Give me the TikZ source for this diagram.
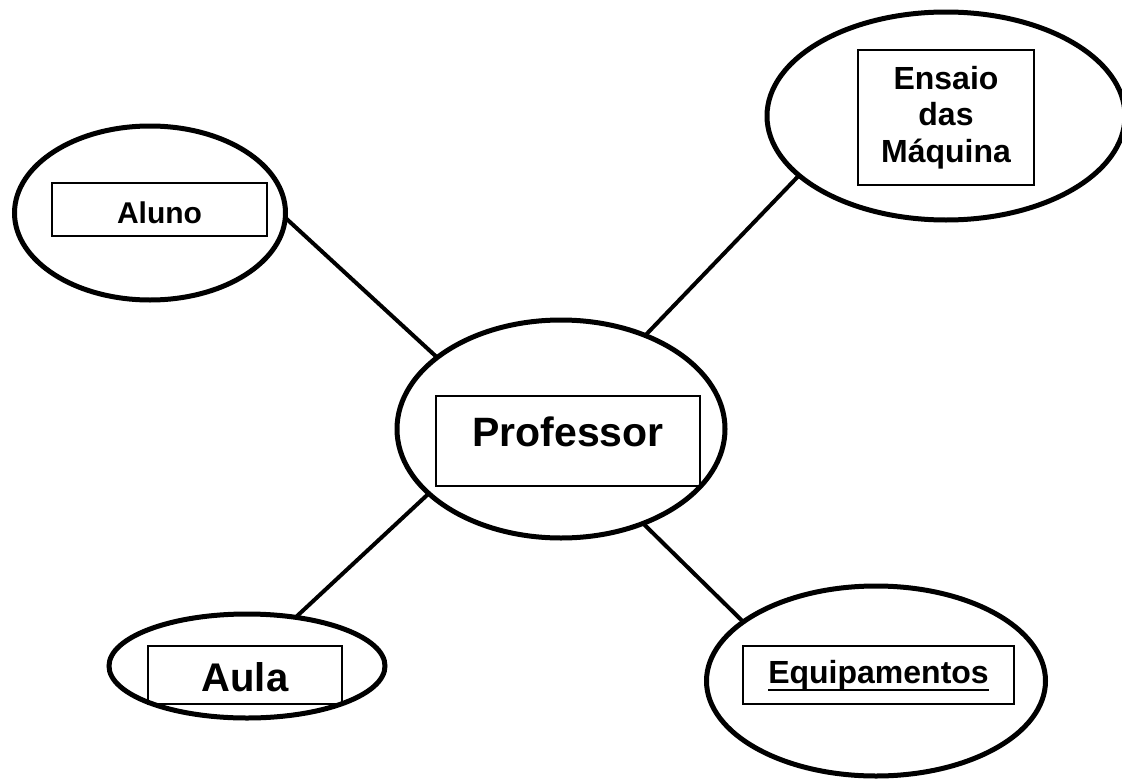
\documentclass[tikz,border=0pt]{standalone}
\usepackage{fontspec}
\setmainfont{Liberation Sans}
\usetikzlibrary{shapes.geometric}
\newcommand{\thickul}[1]{\vtop{\hbox{#1}\kern-1pt\hrule height 2.2pt}}

\begin{document}
\begin{tikzpicture}[x=1pt, y=-1pt, font=\bfseries,
  bubble/.style={draw, ellipse, line width=5pt, inner sep=0pt, outer sep=0pt},
  box/.style={draw, line width=1.6pt, inner sep=0pt, align=center},
  link/.style={line width=4pt}]
  \useasboundingbox (0,0) rectangle (1122,779);
  % bubbles
  \node[bubble, minimum width=328, minimum height=218] (prof) at (561,429) {};
  \node[bubble, minimum width=271, minimum height=174] (aluno) at (150,213) {};
  \node[bubble, minimum width=358, minimum height=208] (ensaio) at (946,116) {};
  \node[bubble, minimum width=276, minimum height=104] (aula) at (247,666) {};
  \node[bubble, minimum width=339, minimum height=190] (equip) at (876,681) {};
  % boxes with text
  \node[box, text height=29.5pt, text depth=18pt, minimum width=264, minimum height=90,
    font=\bfseries\fontsize{41}{46}\selectfont] (profbox) at (568,441) {Professor};
  \node[box, text height=27.6pt, text depth=0pt, minimum width=215, minimum height=53,
    font=\bfseries\fontsize{30}{34}\selectfont] (alunobox) at (159.5,209.5) {Aluno};
  \node[box, minimum width=176, minimum height=135,
    font=\bfseries\fontsize{32}{36.5}\selectfont] (ensaiobox) at (946,117.5) {Ensaio\\das\\Máquina};
  \node[box, text height=32.8pt, text depth=0pt, minimum width=194, minimum height=58,
    font=\bfseries\fontsize{40}{45}\selectfont] (aulabox) at (245,675) {Aula};
  \node[box, text height=23pt, text depth=7pt, minimum width=271, minimum height=58,
    font=\bfseries\fontsize{32}{36}\selectfont] (equipbox) at (878.5,675) {\thickul{Equipamentos}};
  % links
  \draw[link] (aluno.-2) -- (prof.150);
  \draw[link] (ensaio.202) -- (prof.48);
  \draw[link] (aula.45) -- (prof.206);
  \draw[link] (equip.156) -- (prof.-49);
\end{tikzpicture}
\end{document}
